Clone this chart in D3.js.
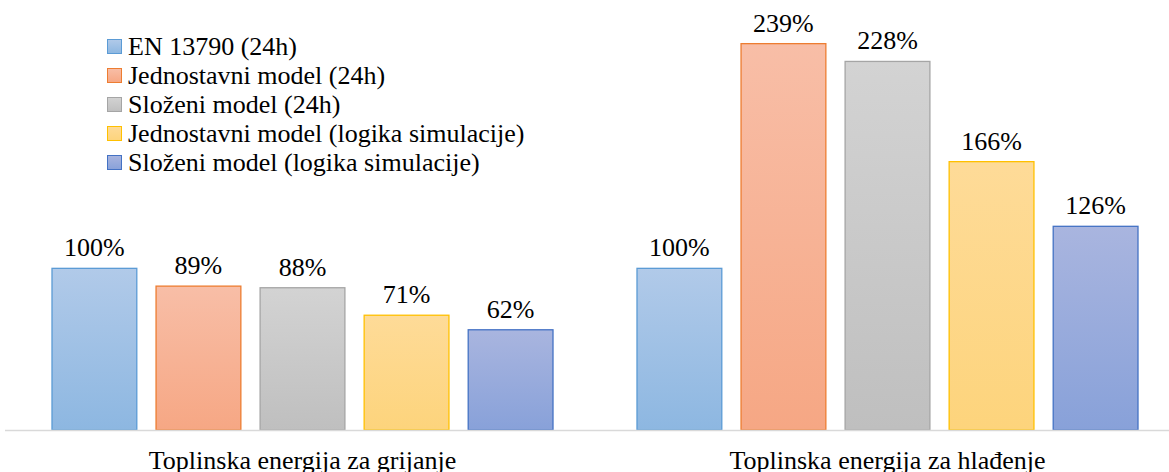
<!DOCTYPE html>
<html>
<head>
<meta charset="utf-8">
<script src="https://cdn.jsdelivr.net/npm/d3@7"></script>
<style>
  body { margin: 0; background: #fff; }
</style>
</head>
<body>
<svg id="chart"></svg>
<script>
const width = 1169;
const height = 472;
const fontFamily = "'Liberation Serif', 'Times New Roman', 'DejaVu Serif', serif";

const categories = ["Toplinska energija za grijanje", "Toplinska energija za hlađenje"];
const seriesNames = [
  "EN 13790 (24h)",
  "Jednostavni model (24h)",
  "Složeni model (24h)",
  "Jednostavni model (logika simulacije)",
  "Složeni model (logika simulacije)"
];
const grijanje = [100, 89, 88, 71, 62];
const hladenje = [100, 239, 228, 166, 126];

// boje: rub, vrh gradijenta, dno gradijenta
const strokeColors = ["#5b9bd5", "#ed7d31", "#a5a5a5", "#ffc000", "#4472c4"];
const topColors = ["#b1cae9", "#f8bea7", "#d3d3d3", "#fedb98", "#a9b5df"];
const bottomColors = ["#8db7e1", "#f6a784", "#bfbfbf", "#fdd47c", "#88a1d9"];

const rows = categories.map((c, i) => ({
  category: c,
  values: (i === 0 ? grijanje : hladenje).map((v, j) => ({ series: j, value: v }))
}));

const svg = d3.select("#chart")
  .attr("width", width)
  .attr("height", height)
  .attr("viewBox", `0 0 ${width} ${height}`)
  .attr("font-family", fontFamily);

const defs = svg.append("defs");
seriesNames.forEach((s, i) => {
  const g = defs.append("linearGradient")
    .attr("id", "grad" + i)
    .attr("x1", 0).attr("y1", 0).attr("x2", 0).attr("y2", 1);
  g.append("stop").attr("offset", "0%").attr("stop-color", topColors[i]);
  g.append("stop").attr("offset", "100%").attr("stop-color", bottomColors[i]);
});

const baseline = 430;

const x0 = d3.scaleBand()
  .domain(categories)
  .range([10, 1180]);

const x1 = d3.scaleBand()
  .domain(d3.range(seriesNames.length))
  .range([42, 543])
  .paddingInner(0.185);

const y = d3.scaleLinear()
  .domain([0, 266])
  .range([baseline, 0]);

// stupci
const groups = svg.append("g").selectAll("g")
  .data(rows)
  .join("g")
  .attr("transform", d => `translate(${x0(d.category)},0)`);

groups.selectAll("rect")
  .data(d => d.values)
  .join("rect")
  .attr("x", d => x1(d.series))
  .attr("y", d => y(d.value))
  .attr("width", x1.bandwidth())
  .attr("height", d => baseline - y(d.value))
  .attr("fill", d => `url(#grad${d.series})`)
  .attr("stroke", d => strokeColors[d.series])
  .attr("stroke-width", 1.3);

groups.selectAll("text.val")
  .data(d => d.values)
  .join("text")
  .attr("class", "val")
  .attr("x", d => x1(d.series) + x1.bandwidth() / 2)
  .attr("y", d => y(d.value) - 12)
  .attr("text-anchor", "middle")
  .attr("font-size", 26)
  .text(d => d.value + "%");

// os x
svg.append("line")
  .attr("x1", 5).attr("x2", width)
  .attr("y1", baseline + 0.5).attr("y2", baseline + 0.5)
  .attr("stroke", "#d9d9d9")
  .attr("stroke-width", 1.5);

svg.append("g").selectAll("text")
  .data(categories)
  .join("text")
  .attr("x", d => x0(d) + x0.bandwidth() / 2)
  .attr("y", 469)
  .attr("text-anchor", "middle")
  .attr("font-size", 26)
  .text(d => d);

// legenda
const legend = svg.append("g").attr("transform", "translate(107,46)");
const item = legend.selectAll("g")
  .data(seriesNames)
  .join("g")
  .attr("transform", (d, i) => `translate(0,${i * 29})`);

item.append("rect")
  .attr("x", 0.5).attr("y", -6.5)
  .attr("width", 14).attr("height", 14)
  .attr("fill", (d, i) => `url(#grad${i})`)
  .attr("stroke", (d, i) => strokeColors[i])
  .attr("stroke-width", 1);

item.append("text")
  .attr("x", 21)
  .attr("y", 9)
  .attr("font-size", 26)
  .text(d => d);
</script>
</body>
</html>
